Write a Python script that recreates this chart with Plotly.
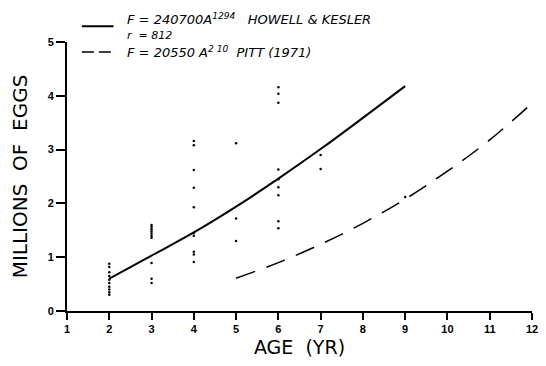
import plotly.graph_objects as go

# Observed data (age in years, millions of eggs)
obs_age = [2]*10 + [3]*10 + [4]*10 + [5]*3 + [6]*9 + [7]*2 + [9]
obs_eggs = [0.88, 0.82, 0.72, 0.65, 0.58, 0.52, 0.45, 0.40, 0.35, 0.30,
            1.60, 1.56, 1.52, 1.48, 1.44, 1.40, 1.36, 0.89, 0.60, 0.52,
            3.16, 3.08, 2.62, 2.29, 1.93, 1.45, 1.40, 1.10, 1.05, 0.91,
            3.12, 1.72, 1.30,
            4.16, 4.04, 3.87, 2.63, 2.45, 2.30, 2.15, 1.67, 1.54,
            2.90, 2.64,
            2.12]

# Fitted curve: Howell & Kesler (solid)
hk_age = [2, 3, 4, 5, 6, 7, 8, 9]
hk_eggs = [0.60, 1.03, 1.46, 1.94, 2.46, 3.01, 3.59, 4.18]

# Pitt (1971) curve (dashed)
pitt_age = [5, 6, 7, 8, 9, 10, 11, 12]
pitt_eggs = [0.61, 0.90, 1.24, 1.63, 2.08, 2.60, 3.18, 3.86]

x_ticks = [1, 2, 3, 4, 5, 6, 7, 8, 9, 10, 11, 12]
y_ticks = [0, 1, 2, 3, 4, 5]

FONT = "Liberation Sans"
TFONT = "DejaVu Sans"

fig = go.Figure()
fig.add_trace(go.Scatter(x=obs_age, y=obs_eggs, mode="markers",
                         marker=dict(color="black", size=2.5), showlegend=False, cliponaxis=False))
fig.add_trace(go.Scatter(x=hk_age, y=hk_eggs, mode="lines",
                         line=dict(color="black", width=2, shape="spline"), showlegend=False))
fig.add_trace(go.Scatter(x=pitt_age, y=pitt_eggs, mode="lines",
                         line=dict(color="black", width=1.5, shape="spline", dash="20px,12px"),
                         showlegend=False))

# page body has an 8px margin on every side: keep the figure inside the window
fig.update_layout(
    width=530, height=350,
    margin=dict(l=59, r=6, t=34, b=47),
    paper_bgcolor="white", plot_bgcolor="white",
    font=dict(family=FONT, color="black"),
    xaxis=dict(range=[1, 12], tickvals=x_ticks, ticktext=[str(v) for v in x_ticks],
               automargin=False, ticklabeloverflow="allow",
               showgrid=False, zeroline=False, showline=True, linecolor="black", linewidth=2,
               ticks="outside", ticklen=7, tickwidth=1.5, tickcolor="black",
               tickfont=dict(size=11, family=FONT, weight="bold"),
               title=dict(text="AGE  (YR)", font=dict(size=19, family=TFONT), standoff=8)),
    yaxis=dict(range=[0, 5], tickvals=y_ticks, ticktext=[str(v) for v in y_ticks],
               automargin=False,
               showgrid=False, zeroline=False, showline=True, linecolor="black", linewidth=2,
               ticks="outside", ticklen=9, tickwidth=1.5, tickcolor="black",
               tickfont=dict(size=11, family=FONT, weight="bold"),
               title=dict(text="MILLIONS  OF  EGGS", font=dict(size=20, family=TFONT), standoff=18)),
)

# Legend drawn as key lines + text
fig.add_shape(type="line", xref="paper", yref="paper", x0=0.032, x1=0.1, y0=1.059, y1=1.059,
              line=dict(color="black", width=2))
fig.add_shape(type="line", xref="paper", yref="paper", x0=0.032, x1=0.1, y0=0.963, y1=0.963,
              line=dict(color="black", width=1.5, dash="12px,5px"))
fig.add_annotation(xref="paper", yref="paper", x=0.124, y=1.084, xanchor="left", yanchor="middle",
                   showarrow=False, align="left",
                   text="<i>F = 240700A<sup>1294</sup>   HOWELL & KESLER</i>",
                   font=dict(size=13, family=TFONT))
fig.add_annotation(xref="paper", yref="paper", x=0.124, y=1.026, xanchor="left", yanchor="middle",
                   showarrow=False, align="left", text="<i>r  = 812</i>",
                   font=dict(size=11, family=TFONT))
fig.add_annotation(xref="paper", yref="paper", x=0.124, y=0.963, xanchor="left", yanchor="middle",
                   showarrow=False, align="left",
                   text="<i>F = 20550 A<sup>2 10</sup>  PITT (1971)</i>",
                   font=dict(size=13, family=TFONT))

fig.write_html("out.html")
